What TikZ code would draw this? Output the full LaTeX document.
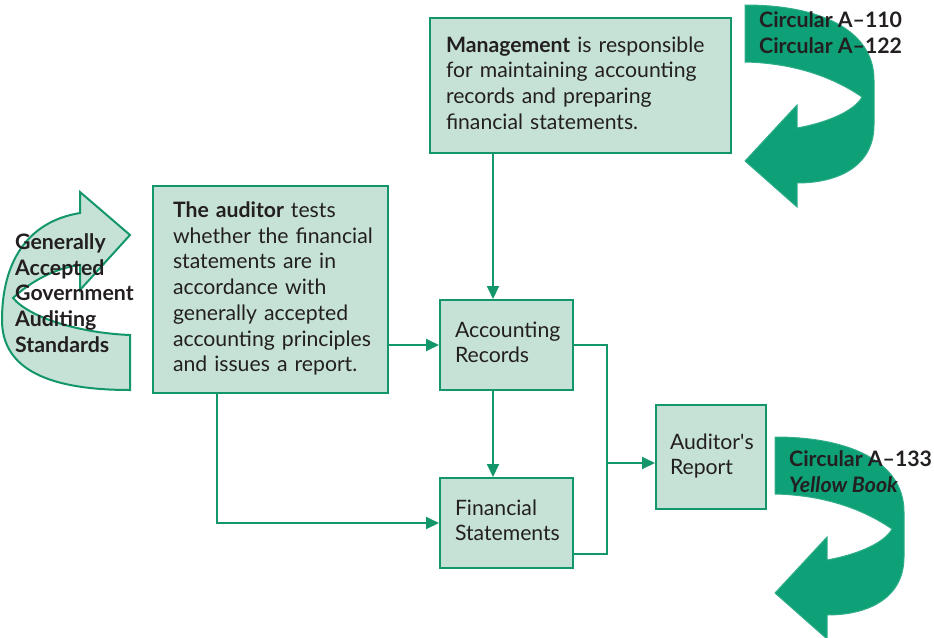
\documentclass[tikz,border=0pt]{standalone}
\usepackage{fontspec}
\setmainfont{Lato}
\usetikzlibrary{arrows.meta,calc}
\definecolor{boxfill}{RGB}{198,226,214}
\definecolor{boxline}{RGB}{18,150,106}
\definecolor{darkarrow}{RGB}{14,160,118}
\definecolor{txt}{RGB}{35,31,32}
\newcommand{\myLines}[1]{\hbox{\begin{tabular}{@{}l@{}}#1\end{tabular}}}
\tikzset{
  box/.style={draw=boxline, fill=boxfill, line width=2pt, align=left, text=txt,
    font=\fontsize{21.2}{25.7}\selectfont, execute at begin node={\hfuzz=200pt\hbadness=10000\relax},
    anchor=center, inner ysep=0pt},
  conn/.style={draw=boxline, line width=1.8pt},
  arr/.style={conn, -{Triangle[length=13pt,width=12pt]}},
  lbl/.style={text=txt, align=left, inner sep=0pt, font=\fontsize{21.3}{25.7}\selectfont\bfseries},
  bigarrow/.style={fill=darkarrow, draw=darkarrow!85!white, line width=1pt},
  lightarrow/.style={fill=boxfill, draw=boxline, line width=2pt, line join=miter}
}
\begin{document}
\begin{tikzpicture}[x=1pt,y=-1pt]
\useasboundingbox (0,0) rectangle (934,637);
% curved arrows
\path[lightarrow] (130,235) -- (80,192) -- (80,213)
  .. controls (25,222) and (2,265) .. (2,320)
  .. controls (2,370) and (50,390) .. (130,390) -- (130,335)
  .. controls (80,333) and (30,318) .. (13,298)
  .. controls (30,282) and (55,268) .. (80,265) -- (80,290) -- cycle;
\foreach \dx/\dy in {0/0, 30/432}{
\path[bigarrow, shift={(\dx,\dy)}] (745,5)
  .. controls (820,5) and (874,30) .. (874,80) -- (874,125)
  .. controls (874,165) and (840,183) .. (797,183) -- (797,207) -- (745,161)
  -- (797,105) -- (797,128)
  .. controls (830,122) and (855,110) .. (862,97)
  .. controls (830,75) and (790,63) .. (745,62) -- cycle;
}
% boxes
\node[box, text width=269pt, inner xsep=16pt, minimum height=135pt] (mgmt) at (580.5,85.5)
  {\myLines{\textbf{Management} is responsible\\for maintaining accounting\\records and preparing\\financial statements.}};
\node[box, text width=195pt, inner xsep=20pt, minimum height=207pt] (aud) at (270.5,289.5)
  {\myLines{\textbf{The auditor} tests\\whether the financial\\statements are in\\accordance with\\generally accepted\\accounting principles\\and issues a report.}};
\node[box, text width=103pt, inner xsep=15pt, minimum height=90pt] (ar) at (506.5,345)
  {\myLines{Accounting\\Records}};
\node[box, text width=103pt, inner xsep=15pt, minimum height=90pt] (fs) at (506.5,523)
  {\myLines{Financial\\Statements}};
\node[box, text width=82pt, inner xsep=14pt, minimum height=104pt] (aur) at (711,457)
  {\myLines{Auditor\textquotesingle s\\Report}};
% labels
\node[lbl, anchor=west] (gaas) at (15,293) {Generally\\Accepted\\Government\\Auditing\\Standards};
\node[lbl, anchor=west] (circ1) at (759,33) {Circular A–110\\Circular A–122};
\node[lbl, anchor=west] (circ2) at (789,472) {Circular A–133\\\textit{Yellow Book}};
% connectors
\coordinate (cx) at (493,0);
\coordinate (ax) at (217,0);
\coordinate (bx) at (607,0);
\coordinate (fsr) at ($(fs.south east)+(0,-15)$);
\coordinate (aurin) at ($(aur.west)+(0,6)$);
\draw[arr] (mgmt.south -| cx) -- (ar.north -| cx);
\draw[arr] (aud.east |- ar.west) -- (ar.west);
\draw[arr] (ar.south -| cx) -- (fs.north -| cx);
\draw[arr] (aud.south -| ax) |- (fs.west);
\draw[conn] (ar.east) -- (ar.east -| bx) -- (fsr -| bx) -- (fsr);
\draw[arr] (aurin -| bx) -- (aurin);
\end{tikzpicture}
\end{document}
